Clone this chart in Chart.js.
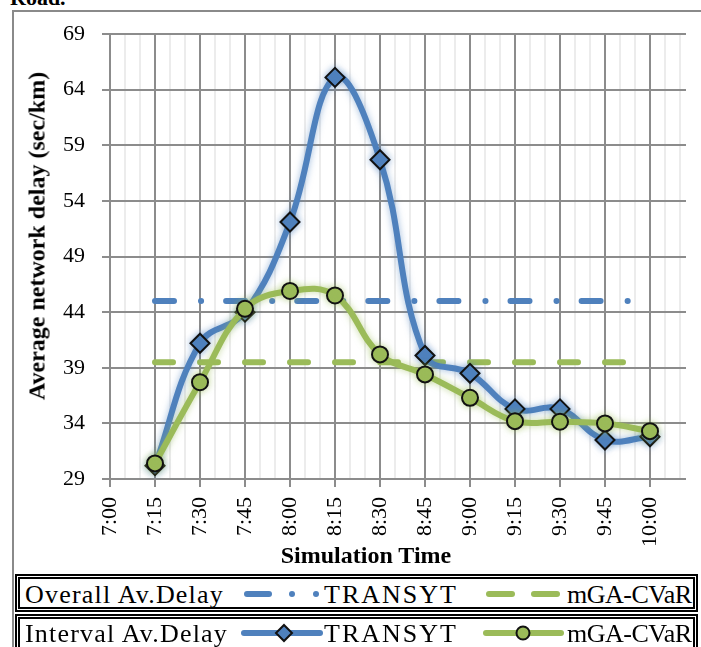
<!DOCTYPE html>
<html>
<head>
<meta charset="utf-8">
<script src="https://cdn.jsdelivr.net/npm/chart.js@4.4.1/dist/chart.umd.min.js"></script>
<style>
  html, body { margin: 0; padding: 0; background: #fff; }
  #wrap { position: relative; width: 701px; height: 647px; overflow: hidden; background: #fff;
          font-family: 'Liberation Serif', 'Times New Roman', serif; color: #000; }
  #road { position: absolute; left: 10px; top: -15px; font-weight: bold; font-size: 22px; }
  #frame { position: absolute; left: 12px; top: 10px; width: 900px; height: 900px;
           border-left: 2px solid #8a8a8a; border-top: 2px solid #8a8a8a; }
  #chart { position: absolute; left: 0; top: 0; }
  .axis-title { position: absolute; font-weight: bold; font-size: 24px; white-space: nowrap;
                transform: translate(-50%, -50%); }
  #ytitle { left: 37px; top: 236px; transform: translate(-50%, -50%) rotate(-90deg); }
  #xtitle { left: 366px; top: 555px; }
  .box { position: absolute; left: 15px; width: 673px; border: 5px double #000; background: #fff; }
  #box1 { top: 574px; height: 28px; }
  #box2 { top: 614px; height: 40px; }
  .lg { position: absolute; font-size: 26px; line-height: 1; white-space: nowrap; }
  .cat { letter-spacing: 1.2px; }
  .tr { letter-spacing: 2px; }
  .mg { letter-spacing: -0.5px; }
  #keys { position: absolute; left: 0; top: 0; }
</style>
</head>
<body>
<div id="wrap">
  <div id="road">Road.</div>
  <div id="frame"></div>
  <canvas id="chart" width="701" height="575"></canvas>
  <div id="ytitle" class="axis-title">Average network delay (sec/km)</div>
  <div id="xtitle" class="axis-title">Simulation Time</div>

  <div id="box1" class="box"></div>
  <div id="box2" class="box"></div>
  <svg id="keys" width="701" height="647">
    <!-- Overall averages -->
    <line x1="247" y1="594" x2="269" y2="594" stroke="#4F81BD" stroke-width="6" stroke-linecap="round"/>
    <circle cx="292" cy="594" r="3" fill="#4F81BD"/>
    <circle cx="316" cy="594" r="3" fill="#4F81BD"/>
    <line x1="489" y1="594" x2="512" y2="594" stroke="#9BBB59" stroke-width="6" stroke-linecap="round"/>
    <line x1="534" y1="594" x2="557" y2="594" stroke="#9BBB59" stroke-width="6" stroke-linecap="round"/>
    <!-- Interval averages -->
    <line x1="244" y1="633" x2="320" y2="633" stroke="#4F81BD" stroke-width="6" stroke-linecap="round"/>
    <polygon points="284,625 292,633 284,641 276,633" fill="#4F81BD" stroke="#111" stroke-width="2"/>
    <line x1="486" y1="633" x2="561" y2="633" stroke="#9BBB59" stroke-width="6" stroke-linecap="round"/>
    <circle cx="523" cy="633" r="6.5" fill="#9BBB59" stroke="#111" stroke-width="2"/>
  </svg>
  <div class="lg cat" style="left:25px; top:582px;">Overall Av.Delay</div>
  <div class="lg tr" style="left:324px; top:582px;">TRANSYT</div>
  <div class="lg mg" style="left:567px; top:582px;">mGA-CVaR</div>
  <div class="lg cat" style="left:25px; top:621px;">Interval Av.Delay</div>
  <div class="lg tr" style="left:324px; top:621px;">TRANSYT</div>
  <div class="lg mg" style="left:567px; top:621px;">mGA-CVaR</div>
</div>

<script>
// Axis tick labels (every quarter hour from 7:00)
const axisLabels = ['7:00', '7:15', '7:30', '7:45', '8:00', '8:15', '8:30',
                    '8:45', '9:00', '9:15', '9:30', '9:45', '10:00'];

// Interval measurement times
const timeLabels = ['7:15', '7:30', '7:45', '8:00', '8:15', '8:30',
                    '8:45', '9:00', '9:15', '9:30', '9:45', '10:00'];

// Interval average network delay (sec/km)
const transytInterval = [30.2, 41.2, 44.0, 52.1, 65.1, 57.7, 40.1, 38.5, 35.3, 35.3, 32.5, 32.8];
const mgaCvarInterval = [30.4, 37.7, 44.3, 45.9, 45.5, 40.2, 38.4, 36.3, 34.2, 34.15, 34.0, 33.3];

// Overall average network delay (sec/km) and the time span it is drawn over
const transytOverall = 45.0;
const mgaCvarOverall = 39.5;
const overallSpan = ['7:15', '9:53'];

// Axis ranges
const yRange = [29, 69];
const xMaxMinutes = 192;

const BLUE = '#4F81BD';
const GREEN = '#9BBB59';

// minutes after 7:00
const toMin = t => { const [h, m] = t.split(':').map(Number); return (h - 7) * 60 + m; };
const pts = (labels, vals) => vals.map((v, i) => ({ x: toMin(labels[i]), y: v }));
const flat = v => overallSpan.map(t => ({ x: toMin(t), y: v }));

// soft halo around the interval curves
const glowPlugin = {
  id: 'glow',
  beforeDatasetDraw(chart, args) {
    const ds = chart.data.datasets[args.index];
    if (!ds.glow) return;
    const ctx = chart.ctx;
    ctx.save();
    ctx.shadowColor = ds.glow;
    ctx.shadowBlur = 7;
  },
  afterDatasetDraw(chart, args) {
    const ds = chart.data.datasets[args.index];
    if (ds.glow) chart.ctx.restore();
  }
};

Chart.defaults.font.family = "'Liberation Serif', 'Times New Roman', serif";
Chart.defaults.color = '#000';

const isMajor = c => c.tick && c.tick.value % 15 === 0;

new Chart(document.getElementById('chart'), {
  type: 'line',
  data: {
    datasets: [
      {
        label: 'mGA-CVaR',
        data: pts(timeLabels, mgaCvarInterval),
        borderColor: GREEN, borderWidth: 6, tension: 0.4,
        pointStyle: 'circle', pointRadius: 8, pointBackgroundColor: GREEN,
        pointBorderColor: '#111', pointBorderWidth: 2,
        glow: 'rgba(155,187,89,0.55)'
      },
      {
        label: 'TRANSYT',
        data: pts(timeLabels, transytInterval),
        borderColor: BLUE, borderWidth: 6, tension: 0.4,
        pointStyle: 'rectRot', pointRadius: 9.5, pointBackgroundColor: BLUE,
        pointBorderColor: '#111', pointBorderWidth: 2,
        glow: 'rgba(79,129,189,0.55)'
      },
      {
        label: 'TRANSYT overall',
        data: flat(transytOverall),
        borderColor: BLUE, borderWidth: 6, borderDash: [19, 27, 0.1, 25],
        borderCapStyle: 'round', pointRadius: 0
      },
      {
        label: 'mGA-CVaR overall',
        data: flat(mgaCvarOverall),
        borderColor: GREEN, borderWidth: 6, borderDash: [18, 27],
        borderCapStyle: 'round', pointRadius: 0
      }
    ]
  },
  options: {
    responsive: false,
    animation: false,
    devicePixelRatio: 1,
    layout: { padding: { left: 0, right: 15, top: 34, bottom: 0 } },
    plugins: { legend: { display: false }, tooltip: { enabled: false } },
    scales: {
      x: {
        type: 'linear', min: 0, max: xMaxMinutes,
        afterBuildTicks: s => {
          const t = [];
          for (let v = 0; v < xMaxMinutes; v += 5) t.push({ value: v });
          s.ticks = t;
        },
        afterFit: s => { s.height = 96; s.paddingLeft = 0; s.paddingRight = 0; },
        ticks: {
          autoSkip: false, maxRotation: 90, minRotation: 90, padding: 10,
          font: { size: 22 },
          callback: v => (v % 15 === 0 ? axisLabels[v / 15] : '')
        },
        grid: {
          color: c => (isMajor(c) ? '#8c8c8c' : '#ececec'),
          lineWidth: 2, tickLength: 8,
          tickColor: c => (isMajor(c) ? '#8c8c8c' : 'rgba(0,0,0,0)')
        },
        border: { display: false }
      },
      y: {
        min: yRange[0], max: yRange[1],
        afterFit: s => { s.width = 110; s.paddingTop = 0; s.paddingBottom = 0; },
        ticks: { stepSize: 5, padding: 17, font: { size: 22 } },
        grid: { color: '#8c8c8c', lineWidth: 2, tickLength: 8 },
        border: { display: false }
      }
    }
  },
  plugins: [glowPlugin]
});
</script>
</body>
</html>
